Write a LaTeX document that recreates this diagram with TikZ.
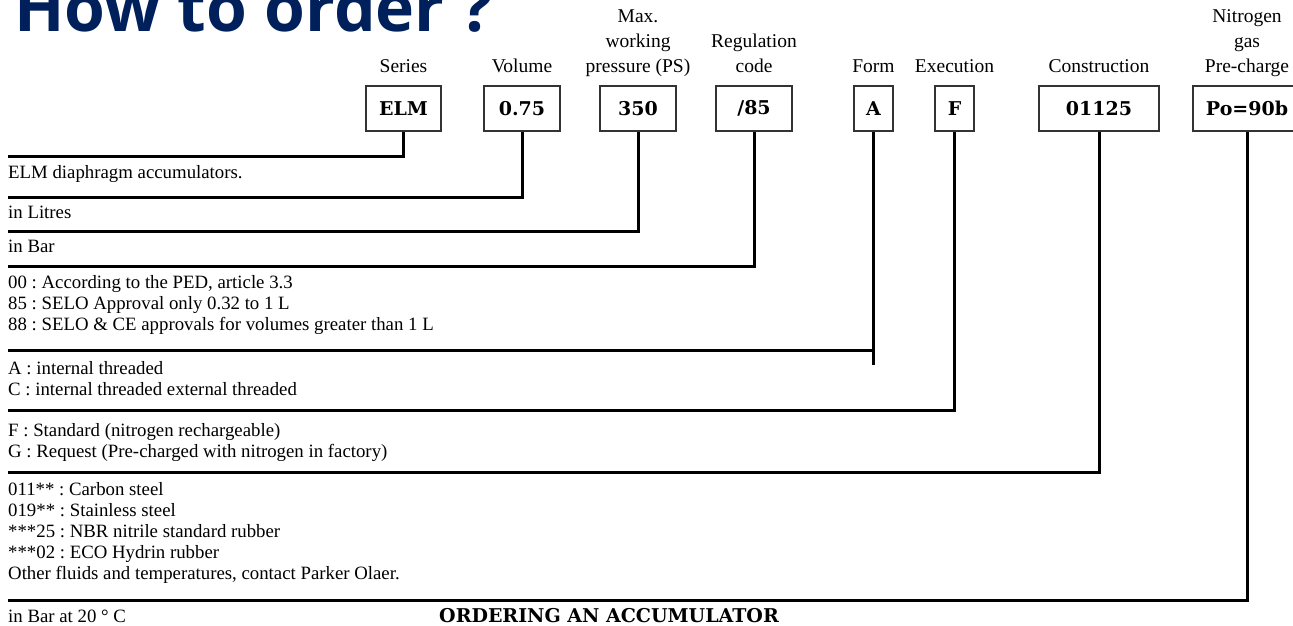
\documentclass[tikz,border=0pt]{standalone}
\usepackage{fontspec}
\setmainfont{Liberation Serif}
\newfontfamily\codefont{DejaVu Serif}
\newfontfamily\titlefont{Open Sans}
\usetikzlibrary{positioning}
\definecolor{navy}{RGB}{0,32,91}
\frenchspacing

\begin{document}
\begin{tikzpicture}[
        x=1pt, y=-1pt,
        code/.style={ draw=black!80, line width=1.6pt, inner sep=0pt, minimum height=45pt, font=\fontsize{19}{20}\selectfont\codefont\bfseries },
        lbl/.style={ inner sep=0pt, align=center, font=\fontsize{19.5}{25}\selectfont },
        desc/.style={ inner sep=0pt, align=left, anchor=base west, font=\fontsize{18.8}{21}\selectfont },
        conn/.style={ line width=3pt }
    ]
    \useasboundingbox (0,0) rectangle (1293,626);

    \node[anchor=base west, inner sep=0pt, text=navy, font=\fontsize{66}{66}\selectfont\titlefont\bfseries] (title) at (14,32) {How to order ?};

    % code boxes
    \node[code, minimum width=75pt ] (series) at (403.5,108.5) {ELM};
    \node[code, minimum width=76pt ] (volume) at (522,108.5)   {0.75};
    \node[code, minimum width=76pt ] (press)  at (638,108.5)   {350};
    \node[code, minimum width=76pt ] (reg)    at (754,108.5)   {/85};
    \node[code, minimum width=39pt ] (form)   at (873.5,108.5) {A};
    \node[code, minimum width=39pt ] (exec)   at (954.5,108.5) {F};
    \node[code, minimum width=120pt] (constr) at (1099,108.5)  {01125};
    \node[code, minimum width=108pt] (gas)    at (1247,108.5)  {Po=90b};

    % headings
    \node[lbl, above=13pt of series, anchor=base] (serieslbl) {Series};
    \node[lbl, above=13pt of volume, anchor=base] (volumelbl) {Volume};
    \node[lbl, above=13pt of press,  anchor=base] (presslbl)  {Max.\\working\\pressure (PS)};
    \node[lbl, above=13pt of reg,    anchor=base] (reglbl)    {Regulation\\code};
    \node[lbl, above=13pt of form,   anchor=base] (formlbl)   {Form};
    \node[lbl, above=13pt of exec,   anchor=base] (execlbl)   {Execution};
    \node[lbl, above=13pt of constr, anchor=base] (constrlbl) {Construction};
    \node[lbl, above=13pt of gas,    anchor=base] (gaslbl)    {Nitrogen\\gas\\Pre-charge};

    % leader lines
    \coordinate (seriesend) at (8,156);
    \coordinate (volumeend) at (8,197);
    \coordinate (pressend)  at (8,231);
    \coordinate (regend)    at (8,266);
    \coordinate (formend)   at (8,350);
    \coordinate (formtip)   at (873.5,365);
    \coordinate (execend)   at (8,410);
    \coordinate (constrend) at (8,472);
    \coordinate (gasend)    at (8,600);

    \draw[conn] (series.south) |- (seriesend);
    \draw[conn] (volume.south) |- (volumeend);
    \draw[conn] (press.south)  |- (pressend);
    \draw[conn] (reg.south)    |- (regend);
    \draw[conn] (form.south)   |- (formend);
    \draw[conn] (form.south)   -- (formtip);
    \draw[conn] (exec.south)   |- (execend);
    \draw[conn] (constr.south) |- (constrend);
    \draw[conn] (gas.south)    |- (gasend);

    % descriptions (placed by their last line)
    \node[desc] (seriestxt) at (8,178) {ELM diaphragm accumulators.};
    \node[desc] (volumetxt) at (8,218) {in Litres};
    \node[desc] (presstxt)  at (8,252) {in Bar};
    \node[desc] (regtxt)    at (8,330) {00 : According to the PED, article 3.3\\85 : SELO Approval only 0.32 to 1 L\\88 : SELO \& CE approvals for volumes greater than 1 L};
    \node[desc] (formtxt)   at (8,395) {A : internal threaded\\C : internal threaded external threaded};
    \node[desc] (exectxt)   at (8,457) {F : Standard (nitrogen rechargeable)\\G : Request (Pre-charged with nitrogen in factory)};
    \node[desc] (constrtxt) at (8,579) {011** : Carbon steel\\019** : Stainless steel\\***25 : NBR nitrile standard rubber\\***02 : ECO Hydrin rubber\\Other fluids and temperatures, contact Parker Olaer.};
    \node[desc] (gastxt)    at (8,622) {in Bar at 20 ° C};

    \node[anchor=base, inner sep=0pt, font=\fontsize{19}{20}\selectfont\codefont\bfseries] (caption) at (609,622) {ORDERING AN ACCUMULATOR};
\end{tikzpicture}
\end{document}
